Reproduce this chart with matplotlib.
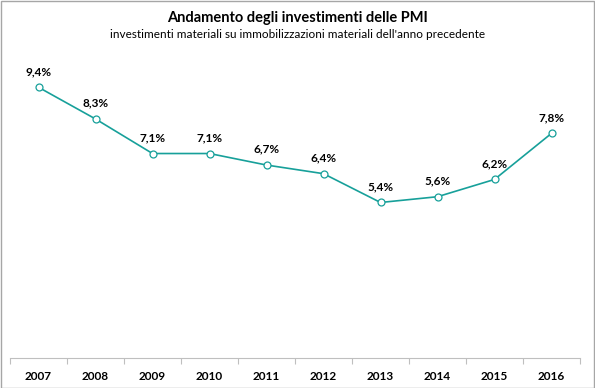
import matplotlib
matplotlib.use("Agg")
import matplotlib.pyplot as plt
from matplotlib.patches import Rectangle

years = ["2007", "2008", "2009", "2010", "2011", "2012", "2013", "2014", "2015", "2016"]
values = [9.4, 8.3, 7.1, 7.1, 6.7, 6.4, 5.4, 5.6, 6.2, 7.8]
labels = ["9,4%", "8,3%", "7,1%", "7,1%", "6,7%", "6,4%", "5,4%", "5,6%", "6,2%", "7,8%"]
title = "Andamento degli investimenti delle PMI"
subtitle = "investimenti materiali su immobilizzazioni materiali dell'anno precedente"

plt.rcParams['font.family'] = ['Lato', 'DejaVu Sans']
color = "#17A09A"

fig = plt.figure(figsize=(5.95, 3.88), dpi=100)
ax = fig.add_axes([10/595, 30/388, 570/595, 288/388])
x = list(range(len(years)))
ax.plot(x, values, color=color, lw=1.2, marker='o', ms=5,
        markerfacecolor='white', markeredgecolor=color, markeredgewidth=0.9, zorder=3)
for xi, v, lab in zip(x, values, labels):
    ax.annotate(lab, (xi, v), xytext=(0, 7.5), textcoords='offset points',
                ha='center', va='bottom', fontsize=8.5, fontweight='bold', color='#000000')

ax.set_xlim(-0.5, len(years) - 0.5)
ax.set_ylim(0, 10)
ax.set_yticks([])
ax.set_xticks(x)
ax.set_xticklabels(years, fontsize=8.5, fontweight='bold')
ax.tick_params(axis='x', which='major', length=0, pad=9)
ax.set_xticks([i - 0.5 for i in range(len(years) + 1)], minor=True)
ax.tick_params(axis='x', which='minor', length=4, color='#BFBFBF', width=0.8)
for s in ['top', 'right', 'left']:
    ax.spines[s].set_visible(False)
ax.spines['bottom'].set_color('#BFBFBF')
ax.spines['bottom'].set_linewidth(0.8)

fig.text(0.5, 1 - 18/388, title, ha='center', va='center', fontsize=10.5, fontweight='bold')
fig.text(0.5, 1 - 35/388, subtitle, ha='center', va='center', fontsize=8.5)

fig.patches.append(Rectangle((0.5/595, 0.5/388), 1 - 1.5/595, 1 - 1.5/388, transform=fig.transFigure,
                             fill=False, edgecolor='#A6A6A6', lw=1.0))
fig.savefig("out.png", dpi=100)
